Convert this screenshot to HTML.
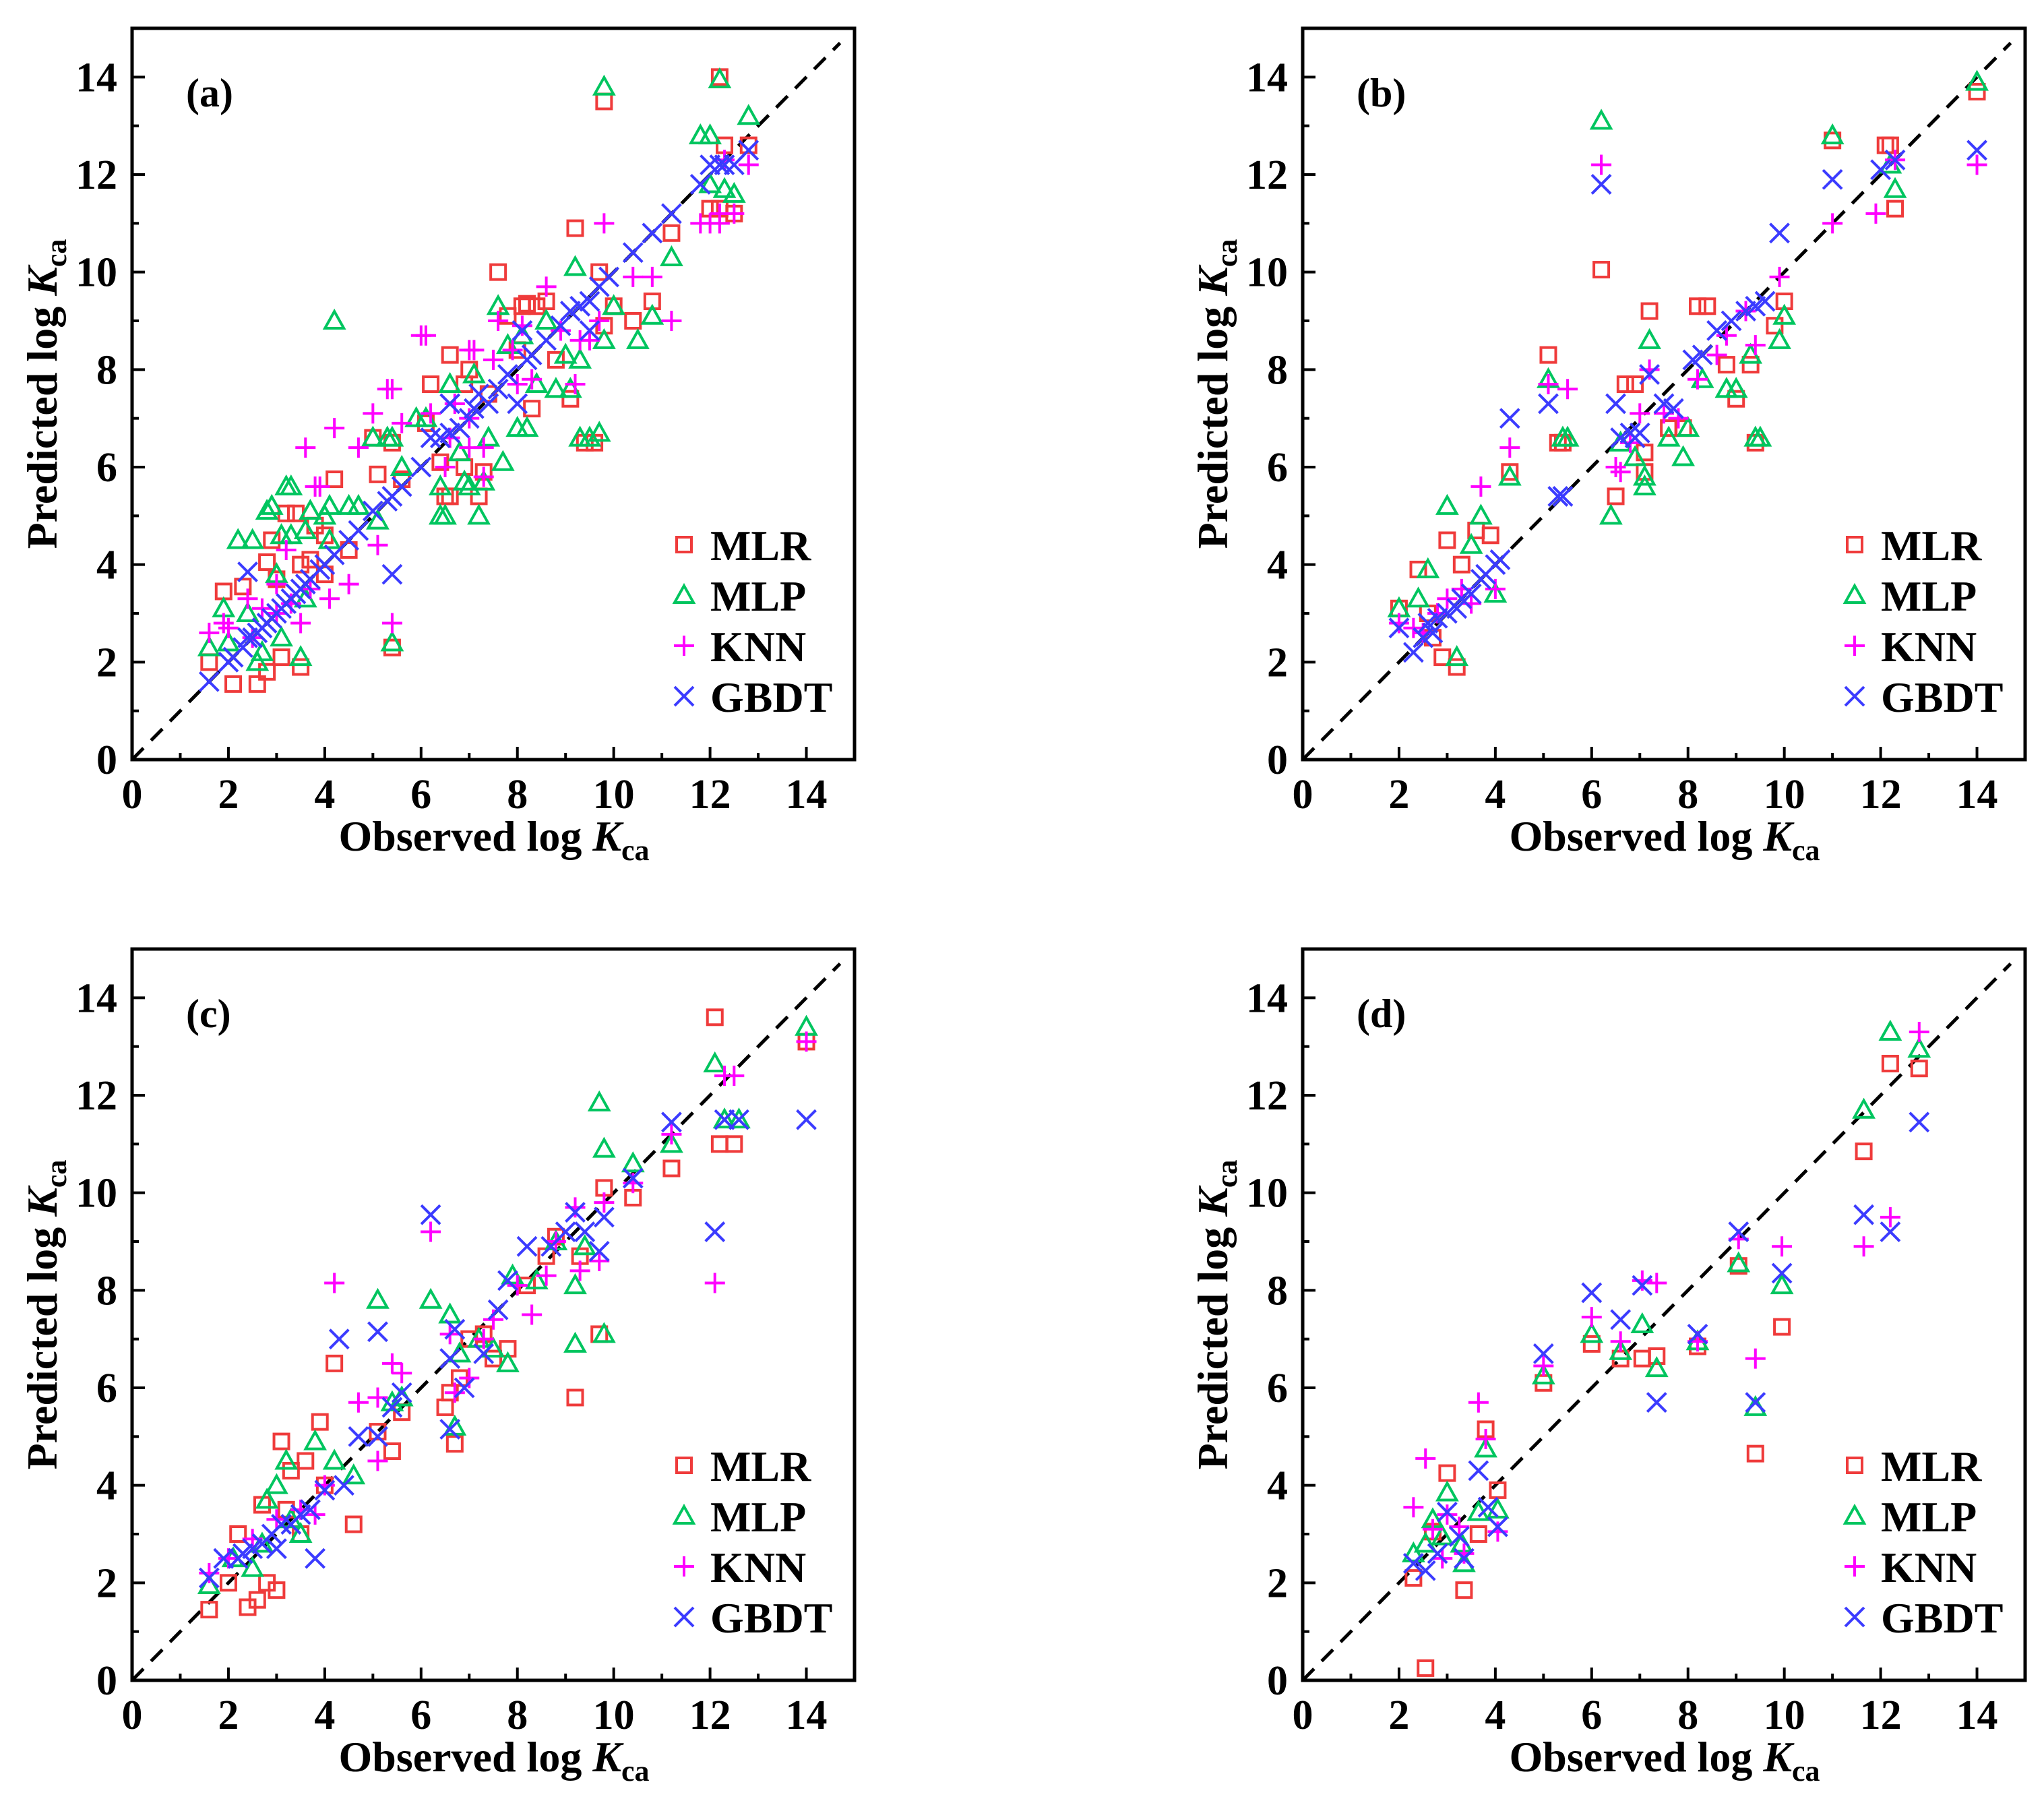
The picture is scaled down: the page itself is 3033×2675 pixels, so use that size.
<!DOCTYPE html>
<html><head><meta charset="utf-8">
<style>
html,body{margin:0;padding:0;background:#fff;}
svg{display:block;}
text{font-family:"Liberation Serif",serif;font-weight:bold;fill:#000;}
</style></head>
<body>
<svg id="fig" width="3033" height="2675" viewBox="0 0 3033 2675" xmlns="http://www.w3.org/2000/svg"></svg>
<script>
// ---- data ----
const tickValues = [0,2,4,6,8,10,12,14];
const panelLabels = ["(a)","(b)","(c)","(d)"];
const modelNames = ["MLR","MLP","KNN","GBDT"];

const aMLR = [[1.6,2.0],[2.1,1.55],[2.6,1.55],[2.8,1.8],[3.1,2.1],[3.5,1.9],[1.9,3.45],[2.3,3.55],[2.9,4.5],[2.8,4.05],[3.2,5.05],[3.4,5.05],[3.8,4.8],[4.0,4.6],[4.2,5.75],[4.5,4.3],[4.0,3.8],[5.0,6.6],[5.1,5.85],[5.4,6.5],[5.6,5.75],[5.4,2.3],[6.2,7.7],[6.1,6.9],[6.4,6.1],[6.6,8.3],[6.5,5.4],[6.6,5.4],[6.9,7.7],[7.0,8.0],[7.2,5.4],[7.3,5.9],[6.9,6.0],[7.4,7.5],[7.6,10.0],[7.8,9.1],[8.0,8.4],[8.1,9.3],[8.2,9.35],[8.4,9.3],[8.6,9.4],[8.3,7.2],[8.8,8.2],[9.1,7.4],[9.2,10.9],[9.4,6.5],[9.6,6.5],[9.7,10.0],[9.8,13.5],[9.8,8.9],[10.0,9.3],[10.4,9.0],[10.8,9.4],[11.2,10.8],[12.0,11.3],[12.2,11.3],[12.2,14.0],[12.5,11.2],[12.3,12.6],[12.8,12.6],[3.0,3.7],[3.5,4.0],[3.7,4.1]];
const aMLP = [[1.6,2.3],[1.9,3.1],[2.2,4.5],[2.5,4.5],[2.6,2.0],[2.7,2.2],[3.1,2.5],[3.5,2.1],[2.8,5.1],[2.9,5.2],[3.2,5.6],[3.3,5.6],[3.1,4.6],[3.3,4.6],[3.7,5.1],[4.0,5.0],[4.1,5.2],[4.5,5.2],[4.7,5.2],[3.6,4.7],[4.1,4.5],[4.2,9.0],[5.0,6.6],[5.1,4.9],[5.3,6.6],[5.4,6.6],[5.6,6.0],[5.4,2.4],[5.9,7.0],[6.1,7.0],[6.4,5.0],[6.5,5.0],[6.4,5.6],[6.6,7.7],[6.8,6.3],[6.9,5.7],[7.0,5.6],[7.1,7.9],[7.2,5.0],[7.3,5.7],[7.4,6.6],[7.6,9.3],[7.7,6.1],[7.8,8.5],[8.0,6.8],[8.1,8.7],[8.2,6.8],[8.4,7.7],[8.6,9.0],[8.8,7.6],[9.0,8.3],[9.1,7.6],[9.2,10.1],[9.3,8.2],[9.3,6.6],[9.5,6.6],[9.7,6.7],[9.8,8.6],[9.8,13.8],[10.0,9.3],[10.5,8.6],[10.8,9.1],[11.2,10.3],[11.8,12.8],[12.0,12.8],[12.2,13.95],[12.3,11.7],[12.5,11.6],[12.8,13.2],[12.0,11.8],[2.0,2.4],[2.4,3.0],[3.0,3.8],[3.6,3.3]];
const aKNN = [[1.6,2.6],[1.9,2.8],[2.0,2.7],[2.4,3.3],[2.7,3.1],[3.0,3.6],[3.2,4.3],[3.5,2.8],[3.6,6.4],[3.8,5.6],[3.9,5.6],[4.2,6.8],[4.1,3.3],[4.5,3.6],[4.7,6.4],[5.0,7.1],[5.1,4.4],[5.3,7.6],[5.4,7.6],[5.4,2.8],[5.6,6.9],[6.0,8.7],[6.1,8.7],[6.2,7.1],[6.5,6.0],[6.7,7.3],[7.0,8.4],[7.1,8.4],[7.0,6.4],[7.3,5.8],[7.3,6.4],[7.5,8.2],[7.6,9.0],[7.9,8.4],[8.0,7.7],[8.1,8.9],[8.3,7.8],[8.6,9.7],[8.9,8.8],[9.2,7.7],[9.3,8.6],[9.5,8.6],[9.8,11.0],[9.7,9.0],[10.4,9.9],[10.8,9.9],[11.2,9.0],[11.8,11.0],[12.0,11.0],[12.2,11.0],[12.2,11.2],[12.5,11.2],[12.8,12.2],[12.3,12.3],[2.5,2.5],[3.0,3.0],[3.3,3.2],[3.7,3.5],[6.6,6.6],[7.0,7.0]];
const aGBDT = [[1.6,1.6],[2.0,2.0],[2.1,2.1],[2.3,2.3],[2.4,2.5],[2.5,2.5],[2.6,2.6],[2.7,2.7],[2.8,2.8],[2.9,2.9],[3.0,3.0],[3.1,3.1],[3.2,3.2],[3.3,3.3],[3.4,3.4],[3.5,3.5],[3.6,3.6],[3.7,3.7],[3.9,3.9],[4.0,4.0],[4.2,4.2],[4.5,4.5],[4.7,4.7],[5.0,5.1],[5.3,5.3],[5.4,5.4],[5.6,5.6],[5.4,3.8],[2.4,3.85],[6.0,6.0],[6.2,6.6],[6.4,6.6],[6.6,6.7],[6.6,7.3],[6.8,6.8],[7.0,7.0],[7.1,7.2],[7.2,7.5],[7.4,7.3],[7.6,7.6],[7.8,7.9],[8.0,7.3],[8.1,8.8],[8.2,8.2],[8.3,8.3],[8.6,8.6],[8.9,8.9],[9.1,9.2],[9.3,9.3],[9.5,9.4],[9.5,8.8],[9.7,9.7],[9.9,9.9],[10.4,10.4],[10.8,10.8],[11.2,11.2],[11.8,11.8],[12.0,12.2],[12.2,12.2],[12.3,12.2],[12.5,12.2],[12.8,12.5]];

const bMLR = [[2.0,3.1],[2.4,3.9],[2.6,3.0],[2.9,2.1],[3.0,4.5],[3.2,1.9],[3.3,4.0],[3.6,4.7],[3.9,4.6],[4.3,5.9],[5.1,8.3],[5.3,6.5],[5.4,6.5],[6.2,10.05],[6.5,5.4],[6.7,7.7],[6.9,7.7],[7.1,6.3],[7.1,5.9],[7.2,9.2],[7.6,6.8],[7.9,6.8],[8.2,9.3],[8.4,9.3],[8.8,8.1],[9.0,7.4],[9.3,8.1],[9.4,6.5],[9.8,8.9],[10.0,9.4],[11.0,12.7],[12.1,12.6],[12.2,12.6],[12.3,11.3],[14.0,13.7],[2.7,2.5]];
const bMLP = [[2.0,3.1],[2.4,3.3],[2.6,3.9],[3.0,5.2],[3.2,2.1],[3.5,4.4],[3.7,5.0],[4.0,3.4],[4.3,5.8],[5.1,7.8],[5.4,6.6],[5.5,6.6],[6.2,13.1],[6.4,5.0],[6.6,6.5],[6.9,6.2],[7.1,5.6],[7.1,5.8],[7.2,8.6],[7.6,6.6],[7.9,6.2],[8.0,6.8],[8.3,7.8],[8.8,7.6],[9.0,7.6],[9.3,8.3],[9.4,6.6],[9.5,6.6],[9.9,8.6],[10.0,9.1],[11.0,12.8],[12.2,12.2],[12.3,11.7],[14.0,13.9]];
const bKNN = [[2.0,2.8],[2.3,2.7],[2.5,2.6],[3.0,3.3],[3.3,3.5],[3.5,3.2],[3.7,5.6],[4.0,3.5],[4.3,6.4],[5.1,7.7],[5.5,7.6],[6.2,12.2],[6.5,6.0],[6.6,5.9],[6.8,6.5],[7.0,7.1],[7.2,8.0],[7.5,7.1],[7.8,7.0],[8.2,7.8],[8.6,8.3],[8.8,8.7],[9.2,9.2],[9.4,8.5],[9.9,9.9],[11.0,11.0],[11.9,11.2],[12.3,12.3],[14.0,12.2],[2.8,3.0]];
const bGBDT = [[2.0,2.7],[2.3,2.2],[2.5,2.5],[2.6,2.8],[2.7,2.6],[2.8,2.9],[3.0,3.0],[3.2,3.1],[3.3,3.3],[3.5,3.4],[3.7,3.7],[3.8,3.8],[4.0,4.0],[4.1,4.1],[4.3,7.0],[5.1,7.3],[5.3,5.4],[5.4,5.4],[6.2,11.8],[6.5,7.3],[6.6,6.6],[6.8,6.7],[6.9,6.6],[7.0,6.7],[7.2,7.9],[7.5,7.3],[7.7,7.2],[8.1,8.2],[8.3,8.3],[8.6,8.8],[8.9,9.0],[9.2,9.2],[9.4,9.3],[9.6,9.4],[9.9,10.8],[11.0,11.9],[12.0,12.1],[12.3,12.3],[14.0,12.5]];

const cMLR = [[1.6,1.45],[2.0,2.0],[2.4,1.5],[2.6,1.65],[2.8,2.0],[3.0,1.85],[2.2,3.0],[2.7,3.6],[3.1,4.9],[3.3,4.3],[3.6,4.5],[3.9,5.3],[4.2,6.5],[4.6,3.2],[4.0,4.0],[5.1,5.1],[5.4,4.7],[5.6,5.5],[6.5,5.6],[6.6,5.9],[6.7,4.85],[6.8,6.2],[7.0,7.0],[7.3,7.1],[7.5,6.6],[7.8,6.8],[8.2,8.1],[8.6,8.7],[8.8,9.1],[9.2,5.8],[9.3,8.7],[9.7,7.1],[9.8,10.1],[10.4,9.9],[11.2,10.5],[12.1,13.6],[12.2,11.0],[12.5,11.0],[14.0,13.1],[3.2,3.5],[3.5,3.0]];
const cMLP = [[1.6,1.95],[2.1,2.5],[2.5,2.3],[2.8,3.7],[3.0,4.0],[3.2,4.5],[3.5,3.0],[3.8,4.9],[4.2,4.5],[4.6,4.2],[5.1,7.8],[5.4,5.7],[5.6,5.8],[6.2,7.8],[6.6,7.5],[6.7,5.2],[6.8,6.7],[7.2,7.0],[7.5,6.8],[7.8,6.5],[7.9,8.3],[8.4,8.2],[8.8,9.0],[9.2,8.1],[9.2,6.9],[9.4,8.9],[9.7,11.85],[9.8,10.9],[9.8,7.1],[10.4,10.6],[11.2,11.0],[12.1,12.65],[12.3,11.5],[12.6,11.5],[14.0,13.4],[2.7,2.8],[3.3,3.3]];
const cKNN = [[1.6,2.2],[2.0,2.5],[2.5,2.9],[3.0,3.3],[3.5,3.5],[4.0,4.0],[4.2,8.15],[4.7,5.7],[5.1,5.8],[5.1,4.5],[5.4,6.5],[5.6,6.3],[6.2,9.2],[6.6,7.1],[6.7,5.9],[7.0,6.2],[7.3,7.0],[7.5,7.4],[8.0,8.1],[8.3,7.5],[8.6,8.3],[8.8,9.0],[9.2,9.7],[9.3,8.4],[9.8,9.8],[9.7,8.6],[10.4,10.2],[11.2,11.2],[12.1,8.15],[12.3,12.4],[12.5,12.4],[14.0,13.1],[3.8,3.4]];
const cGBDT = [[1.6,2.1],[1.9,2.5],[2.3,2.6],[2.5,2.7],[2.7,2.8],[2.9,3.0],[3.1,3.2],[3.3,3.2],[3.5,3.4],[3.7,3.5],[3.8,2.5],[4.0,3.9],[4.3,7.0],[4.4,4.0],[4.7,5.0],[5.1,7.15],[5.1,5.0],[5.4,5.6],[5.6,5.9],[6.2,9.55],[6.6,5.15],[6.6,6.6],[6.7,7.2],[6.9,6.0],[7.3,6.7],[7.6,7.6],[7.8,8.2],[8.2,8.9],[8.7,8.9],[9.0,9.2],[9.2,9.6],[9.4,9.2],[9.7,8.8],[9.8,9.5],[10.4,10.3],[11.2,11.45],[12.1,9.2],[12.3,11.5],[12.6,11.5],[14.0,11.5],[2.2,2.5],[3.0,2.7]];

const dMLR = [[2.3,2.1],[2.55,0.25],[2.7,3.05],[3.0,4.25],[3.35,1.85],[3.65,3.0],[3.8,5.15],[4.05,3.9],[5.0,6.1],[6.0,6.9],[6.6,6.6],[7.05,6.6],[7.35,6.65],[8.2,6.85],[9.05,8.5],[9.4,4.65],[9.95,7.25],[11.65,10.85],[12.2,12.65],[12.8,12.55]];
const dMLP = [[2.3,2.6],[2.55,2.8],[2.7,3.3],[2.9,2.95],[3.0,3.85],[3.3,2.8],[3.35,2.4],[3.65,3.45],[3.8,4.75],[4.05,3.5],[5.0,6.25],[6.0,7.1],[6.6,6.75],[7.05,7.3],[7.35,6.4],[8.2,6.95],[9.05,8.55],[9.4,5.6],[9.95,8.1],[11.65,11.7],[12.2,13.3],[12.8,12.95]];
const dKNN = [[2.3,3.55],[2.55,4.55],[2.7,3.1],[2.9,2.5],[3.0,3.4],[3.25,3.15],[3.35,2.6],[3.65,5.7],[3.8,4.95],[4.05,3.05],[5.0,6.45],[6.0,7.45],[6.6,6.95],[7.05,8.2],[7.35,8.15],[8.2,6.95],[9.05,9.05],[9.4,6.6],[9.95,8.9],[11.65,8.9],[12.2,9.5],[12.8,13.3]];
const dGBDT = [[2.3,2.4],[2.55,2.25],[2.8,2.6],[3.0,3.45],[3.25,2.95],[3.35,2.5],[3.65,4.3],[3.85,3.55],[4.05,3.15],[5.0,6.7],[6.0,7.95],[6.6,7.4],[7.05,8.1],[7.35,5.7],[8.2,7.1],[9.05,9.2],[9.4,5.7],[9.95,8.35],[11.65,9.55],[12.2,9.2],[12.8,11.45]];

const panelSeries = [[aMLR,aMLP,aKNN,aGBDT],[bMLR,bMLP,bKNN,bGBDT],[cMLR,cMLP,cKNN,cGBDT],[dMLR,dMLP,dKNN,dGBDT]];

// ---- drawing ----
const NS = "http://www.w3.org/2000/svg";
const svg = document.getElementById("fig");
const colors = ["#ef3b3b","#00c55f","#ff00ff","#3b3bff"];
const origins = [[196,42],[1933,42],[196,1408],[1933,1408]];
const PW = 1072, PH = 1085, DMAX = 15;

function mk(tag, attrs, parent){
  const e = document.createElementNS(NS, tag);
  for (const k in attrs) e.setAttribute(k, attrs[k]);
  parent.appendChild(e);
  return e;
}
function marker(g, type, cx, cy, col){
  const sw = 4;
  if (type === 0){
    mk("rect",{x:cx-11,y:cy-11,width:22,height:22,fill:"none",stroke:col,"stroke-width":sw},g);
  } else if (type === 1){
    mk("polygon",{points:`${cx},${cy-14} ${cx-14},${cy+11} ${cx+14},${cy+11}`,fill:"none",stroke:col,"stroke-width":sw},g);
  } else if (type === 2){
    mk("path",{d:`M${cx-15},${cy}H${cx+15}M${cx},${cy-15}V${cy+15}`,fill:"none",stroke:col,"stroke-width":sw},g);
  } else {
    mk("path",{d:`M${cx-14},${cy-14}L${cx+14},${cy+14}M${cx-14},${cy+14}L${cx+14},${cy-14}`,fill:"none",stroke:col,"stroke-width":sw},g);
  }
}

panelSeries.forEach((series, p) => {
  const [L, T] = origins[p];
  const sx = v => L + v / DMAX * PW;
  const sy = v => T + PH - v / DMAX * PH;
  const g = mk("g", {}, svg);
  
  

  const diag = mk("line",{x1:sx(0),y1:sy(0),x2:sx(14.7),y2:sy(14.7),stroke:"#000","stroke-width":5,"stroke-dasharray":"24 16"},g);
  
  

  for (let v = 1; v <= 14; v++){
    const len = v % 2 === 0 ? 19 : 10;
    mk("line",{x1:sx(v),y1:T+PH,x2:sx(v),y2:T+PH-len,stroke:"#000","stroke-width":4},g);
    mk("line",{x1:L,y1:sy(v),x2:L+len,y2:sy(v),stroke:"#000","stroke-width":4},g);
  }
  tickValues.forEach(v => {
    const tx = mk("text",{x:sx(v),y:T+PH+72,"text-anchor":"middle","font-size":62},g);
    tx.textContent = v;
    
    
    const ty = mk("text",{x:L-22,y:sy(v)+21,"text-anchor":"end","font-size":62},g);
    ty.textContent = v;
    
    
  });

  series.forEach((pts, s) => {
    const sg = mk("g", {}, g);
    
    
    pts.forEach(pt => marker(sg, s, sx(pt[0]), sy(pt[1]), colors[s]));
  });

  const fr = mk("rect",{x:L,y:T,width:PW,height:PH,fill:"none",stroke:"#000","stroke-width":5},g);
  
  

  const pl = mk("text",{x:L+80,y:T+116,"font-size":60},g);
  pl.textContent = panelLabels[p];
  
  

  const xt = mk("text",{x:L+537,y:T+PH+135,"text-anchor":"middle","font-size":64},g);
  xt.innerHTML = 'Observed log <tspan font-style="italic">K</tspan><tspan font-size="44" dy="14">ca</tspan>';
  
  
  const yt = mk("text",{x:0,y:0,"text-anchor":"middle","font-size":64,transform:`translate(${L-112},${T+PH/2}) rotate(-90)`},g);
  yt.innerHTML = 'Predicted log <tspan font-style="italic">K</tspan><tspan font-size="44" dy="14">ca</tspan>';
  
  

  const lg = mk("g", {}, g);
  
  
  modelNames.forEach((n, s) => {
    const ey = T + 766 + s * 75;
    const eg = mk("g", {}, lg);
    
    
    marker(eg, s, L + 819, ey, colors[s]);
    const t = mk("text",{x:L+858,y:ey+23,"font-size":64},eg);
    t.textContent = n;
  });
});
</script>
</body></html>
